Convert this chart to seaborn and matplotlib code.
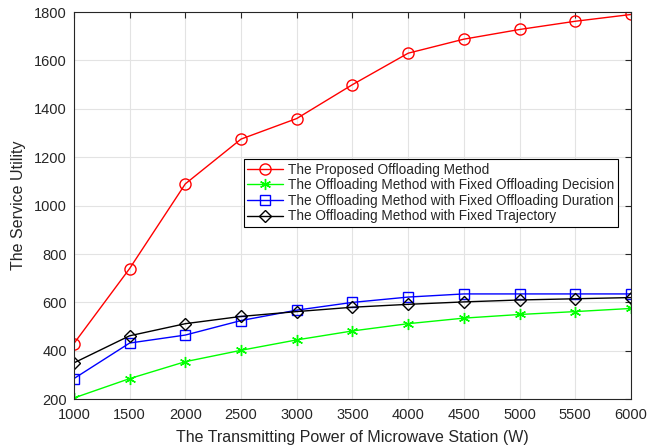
import matplotlib
matplotlib.use("Agg")
import matplotlib.pyplot as plt
import seaborn as sns
import pandas as pd

power = [1000, 1500, 2000, 2500, 3000, 3500, 4000, 4500, 5000, 5500, 6000]
proposed = [430, 740, 1090, 1275, 1360, 1500, 1630, 1688, 1728, 1762, 1790]
fixed_decision = [205, 285, 355, 402, 445, 482, 512, 535, 550, 562, 575]
fixed_duration = [285, 432, 465, 525, 568, 600, 622, 635, 635, 635, 635]
fixed_trajectory = [350, 462, 512, 542, 562, 580, 592, 602, 610, 615, 620]

names = ["The Proposed Offloading Method",
         "The Offloading Method with Fixed Offloading Decision",
         "The Offloading Method with Fixed Offloading Duration",
         "The Offloading Method with Fixed Trajectory"]
series = [proposed, fixed_decision, fixed_duration, fixed_trajectory]
colors = ["#ff0000", "#00ff00", "#0000ff", "#000000"]
markers = ["o", (6, 2, 0), "s", "D"]
msizes = [8, 8, 6.5, 6]

sns.set_style("white")
plt.rcParams['font.family'] = ['Liberation Sans', 'DejaVu Sans']

fig = plt.figure(figsize=(6.6, 4.47), dpi=100)
ax = fig.add_axes([0.112, 0.107, 0.844, 0.866])

for name, vals, c, m, ms in zip(names, series, colors, markers, msizes):
    df = pd.DataFrame({"x": power, "y": vals})
    sns.lineplot(data=df, x="x", y="y", ax=ax, color=c, marker=m, markersize=ms,
                 markerfacecolor="none", markeredgecolor=c, markeredgewidth=1.0,
                 linewidth=1.0, label=name)

ax.set_xlim(1000, 6000)
ax.set_ylim(200, 1800)
ax.set_xticks(power)
ax.set_yticks(range(200, 1801, 200))
ax.grid(True, color="#e3e3e3", linewidth=0.8)
ax.tick_params(direction="in", length=4, labelsize=10.5, colors="#262626", top=True, right=True,
               labeltop=False, labelright=False)
ax.tick_params(axis="x", pad=6)
ax.tick_params(axis="y", pad=5)
for s in ax.spines.values():
    s.set_color("#262626")
    s.set_linewidth(0.8)
ax.set_xlabel("The Transmitting Power of Microwave Station (W)", fontsize=11.5, color="#262626",
              labelpad=6)
ax.set_ylabel("The Service Utility", fontsize=11.5, color="#262626", labelpad=6)

leg = ax.legend(loc="upper left", bbox_to_anchor=(0.305, 0.62), fontsize=9.8,
                frameon=True, fancybox=False, edgecolor="black", framealpha=1,
                borderpad=0.25, labelspacing=0.12, handlelength=2.6, handletextpad=0.4,
                borderaxespad=0)
leg.get_frame().set_linewidth(0.8)

fig.savefig("out.png", dpi=100)
